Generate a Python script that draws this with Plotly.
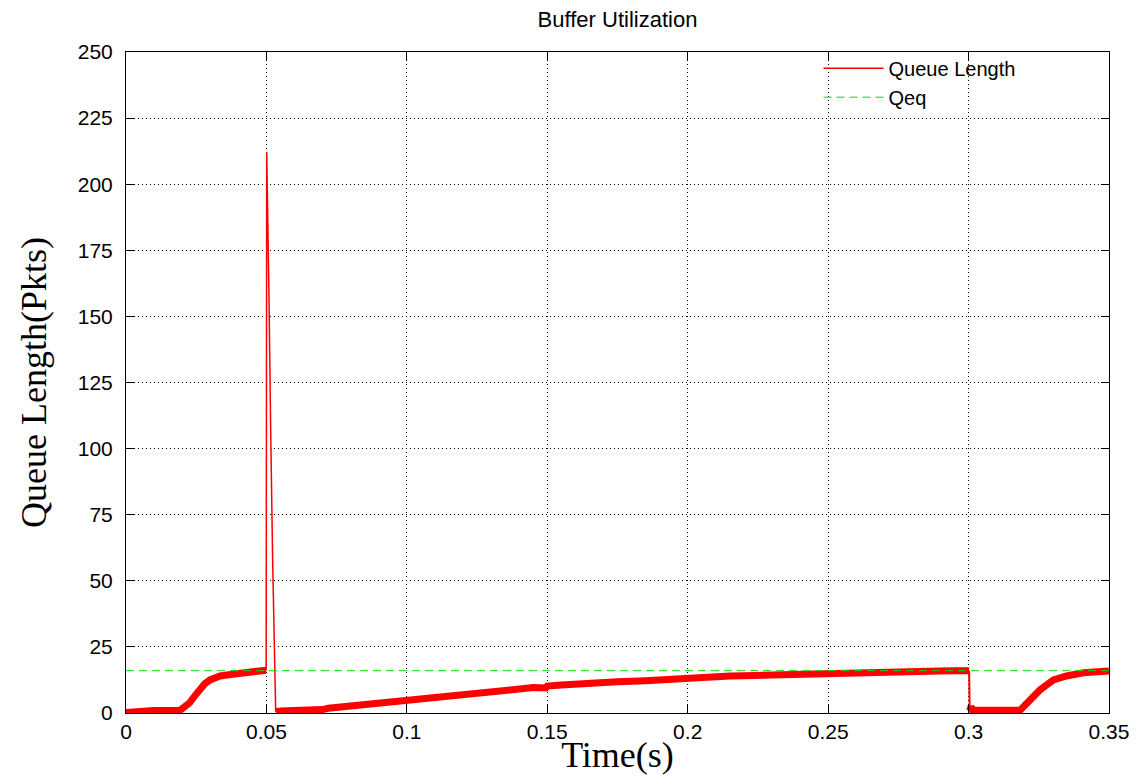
import plotly.graph_objects as go

# ---- data ----
# Queue length: startup phase (thick band), t in seconds, q in packets
rise_time = [0.0, 0.002, 0.0025, 0.005, 0.0075, 0.01, 0.0125, 0.015, 0.0175, 0.0192,
             0.021, 0.0228, 0.0245, 0.0263, 0.028, 0.0299, 0.0315, 0.0335, 0.0359,
             0.0385, 0.0415, 0.0452, 0.047, 0.0492, 0.0499]
rise_queue = [0.2, 0.2, 0.8, 0.8, 0.8, 0.9, 0.9, 0.9, 0.9, 1.0,
              2.5, 4.0, 6.5, 9.4, 11.0, 12.5, 13.3, 14.0, 14.4,
              14.8, 15.2, 15.6, 15.8, 16.2, 16.2]

# Burst at t = 0.05 (thin line)
burst_time = [0.0499, 0.0501, 0.0509, 0.0513, 0.0515, 0.0522, 0.0527, 0.0531, 0.0533]
burst_queue = [16.2, 212.0, 158.4, 133.7, 108.4, 58.3, 33.0, 8.3, 0.5]

# Slow refill after the burst (thick band)
fill_time = [0.0533, 0.055, 0.06, 0.065, 0.07, 0.072, 0.0765, 0.08, 0.086, 0.09,
             0.095, 0.1, 0.105, 0.11, 0.115, 0.12, 0.125, 0.13, 0.135, 0.14,
             0.145, 0.1495, 0.15, 0.155, 0.16, 0.167, 0.175, 0.185, 0.19, 0.195,
             0.2, 0.205, 0.21, 0.215, 0.22, 0.2285, 0.235, 0.24, 0.245, 0.2506,
             0.255, 0.26, 0.265, 0.27, 0.2762, 0.28, 0.285, 0.29, 0.295, 0.3002]
fill_queue = [0.5, 0.8, 0.9, 1.0, 1.3, 1.8, 2.3, 2.7, 3.4, 3.9,
              4.4, 4.9, 5.6, 6.1, 6.7, 7.2, 7.8, 8.5, 8.9, 9.3,
              9.6, 9.5, 10.2, 10.6, 11.0, 11.5, 11.8, 12.2, 12.6, 12.9,
              13.3, 13.5, 13.7, 14.0, 14.1, 14.4, 14.6, 14.7, 14.8, 15.0,
              15.1, 15.3, 15.4, 15.5, 15.6, 15.7, 15.8, 15.9, 16.0, 16.0]

# Flow change at t = 0.3 (thin drop)
drop_time = [0.3002, 0.3004]
drop_queue = [16.0, 0.8]

# Second startup (thick band)
rerise_time = [0.3004, 0.3009, 0.3014, 0.305, 0.31, 0.315, 0.3183, 0.3219, 0.3254,
               0.3302, 0.3349, 0.3409, 0.345, 0.35]
rerise_queue = [0.8, 2.5, 1.0, 0.9, 0.8, 0.8, 1.0, 4.9, 8.7,
                12.5, 14.0, 15.2, 15.6, 15.9]

# Equilibrium queue length
qeq_time = [0.0, 0.35]
qeq_queue = [16.0, 16.0]

# Axes
x_ticks = [0, 0.05, 0.1, 0.15, 0.2, 0.25, 0.3, 0.35]
x_labels = ["0", "0.05", "0.1", "0.15", "0.2", "0.25", "0.3", "0.35"]
y_ticks = [0, 25, 50, 75, 100, 125, 150, 175, 200, 225, 250]
y_labels = [str(v) for v in y_ticks]

RED = "#ff0000"
GREEN = "#00e000"
SANS = "Liberation Sans, Arial, sans-serif"
SERIF = "Liberation Serif, Times New Roman, serif"

fig = go.Figure()

band_width = 7
for t, q in [(rise_time, rise_queue), (fill_time, fill_queue), (rerise_time, rerise_queue)]:
    fig.add_trace(go.Scatter(x=t, y=q, mode="lines", line=dict(color=RED, width=band_width),
                             legendgroup="q", showlegend=False, hoverinfo="skip"))

fig.add_trace(go.Scatter(x=burst_time, y=burst_queue, mode="lines", name="Queue Length",
                         line=dict(color=RED, width=1.5), legendgroup="q", showlegend=True))
fig.add_trace(go.Scatter(x=drop_time, y=drop_queue, mode="lines",
                         line=dict(color=RED, width=2), legendgroup="q", showlegend=False))

fig.add_trace(go.Scatter(x=qeq_time, y=qeq_queue, mode="lines", name="Qeq",
                         line=dict(color=GREEN, width=1, dash="8px,5px")))

axis_common = dict(
    showline=True, linecolor="black", linewidth=1, mirror="ticks",
    ticks="inside", ticklen=8, tickcolor="black", tickwidth=1,
    showgrid=True, gridcolor="black", gridwidth=1, griddash="1px,3px",
    zeroline=False, automargin=False,
    tickfont=dict(family=SANS, size=21, color="black"),
)

fig.update_xaxes(range=[0, 0.35], tickmode="array", tickvals=x_ticks, ticktext=x_labels,
                 ticklabelstandoff=0,
                 title=dict(text="Time(s)", font=dict(family=SERIF, size=36, color="black"),
                            standoff=0),
                 **axis_common)
fig.update_yaxes(range=[0, 250], tickmode="array", tickvals=y_ticks, ticktext=y_labels,
                 ticklabelstandoff=8,
                 title=dict(text="Queue Length(Pkts)", font=dict(family=SERIF, size=36, color="black"),
                            standoff=20),
                 **axis_common)

# page body has an 8px margin, so the figure is drawn from (8, 8)
fig.update_layout(
    width=1122, height=767,
    margin=dict(l=118, r=21, t=44, b=62),
    paper_bgcolor="white", plot_bgcolor="white",
    title=dict(text="Buffer Utilization", x=0.5, xref="paper", xanchor="center",
               y=1 - 11 / 767, yref="container", yanchor="middle",
               font=dict(family=SANS, size=22, color="black")),
    legend=dict(x=0.91, y=1.005, xanchor="right", yanchor="top",
                bgcolor="rgba(255,255,255,0)", borderwidth=0,
                font=dict(family=SANS, size=20, color="black"),
                tracegroupgap=0, itemwidth=60),
    showlegend=True,
)

fig.write_html("out.html")
